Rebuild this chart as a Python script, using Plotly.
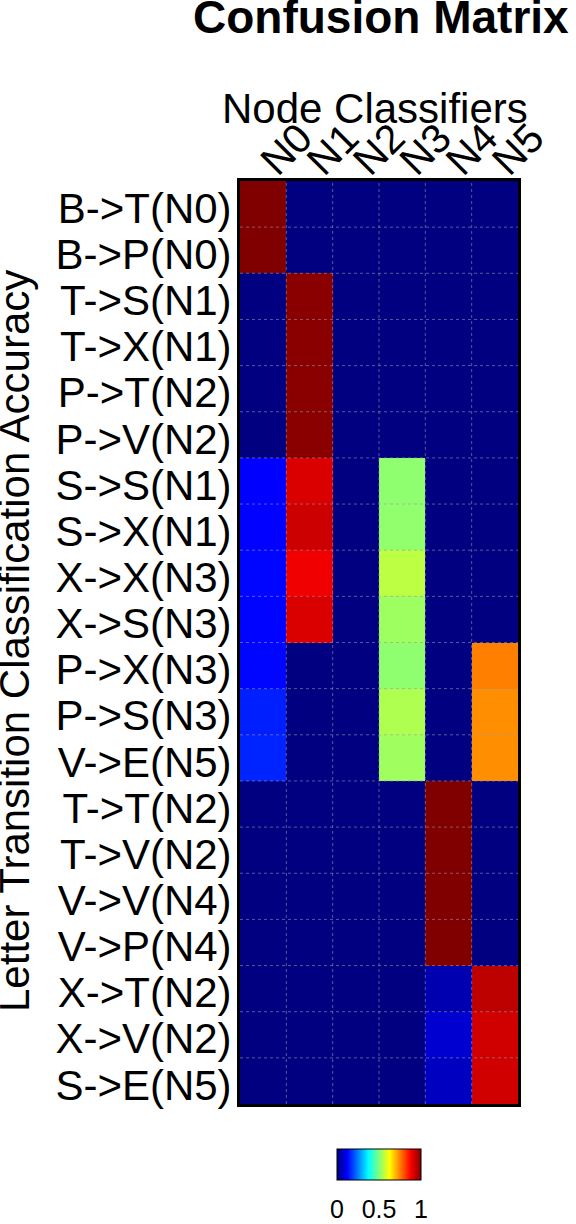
import plotly.graph_objects as go

cols = ["N0", "N1", "N2", "N3", "N4", "N5"]
rows = ["B->T(N0)", "B->P(N0)", "T->S(N1)", "T->X(N1)", "P->T(N2)", "P->V(N2)",
        "S->S(N1)", "S->X(N1)", "X->X(N3)", "X->S(N3)", "P->X(N3)", "P->S(N3)",
        "V->E(N5)", "T->T(N2)", "T->V(N2)", "V->V(N4)", "V->P(N4)", "X->T(N2)",
        "X->V(N2)", "S->E(N5)"]
z = [
    [1.00, 0, 0, 0, 0, 0],
    [1.00, 0, 0, 0, 0, 0],
    [0, 0.99, 0, 0, 0, 0],
    [0, 0.99, 0, 0, 0, 0],
    [0, 0.99, 0, 0, 0, 0],
    [0, 0.99, 0, 0, 0, 0],
    [0.125, 0.91, 0, 0.515, 0, 0],
    [0.126, 0.925, 0, 0.518, 0, 0],
    [0.13, 0.89, 0, 0.56, 0, 0],
    [0.128, 0.91, 0, 0.53, 0, 0],
    [0.13, 0, 0, 0.515, 0, 0.75],
    [0.155, 0, 0, 0.547, 0, 0.735],
    [0.16, 0, 0, 0.532, 0, 0.735],
    [0, 0, 0, 0, 1.00, 0],
    [0, 0, 0, 0, 1.00, 0],
    [0, 0, 0, 0, 1.00, 0],
    [0, 0, 0, 0, 1.00, 0],
    [0, 0, 0, 0, 0.047, 0.94],
    [0, 0, 0, 0, 0.079, 0.92],
    [0, 0, 0, 0, 0.0625, 0.92],
]
cbar_ticks = [0, 0.5, 1]
cbar_text = ["0", "0.5", "1"]

jet = [[0, "#000080"], [0.125, "#0000ff"], [0.375, "#00ffff"],
       [0.625, "#ffff00"], [0.875, "#ff0000"], [1, "#800000"]]
FONT = "Liberation Sans, Arial, sans-serif"

W, H = 576, 1224
PL, PT, PR, PB = 240, 181, 518, 1104  # plot area in page pixels
L, T, R, B = PL, PT, W - PR, H - PB
pw, ph = PR - PL, PB - PT
def px(xp): return (xp - PL) / pw
def py(yp): return (PB - yp) / ph

xi = list(range(len(cols)))
yi = list(range(len(rows)))

fig = go.Figure(go.Heatmap(
    z=z, x=xi, y=yi, colorscale=jet, zmin=0, zmax=1,
    colorbar=dict(orientation="h", lenmode="pixels", len=84, thickness=31,
                  x=px(379), xanchor="center", y=py(1149), yanchor="top",
                  xpad=0, ypad=0, outlinecolor="black", outlinewidth=1,
                  tickvals=cbar_ticks, ticktext=cbar_text, ticks="outside",
                  ticklen=8, tickcolor="rgba(0,0,0,0)",
                  tickfont=dict(family=FONT, size=25, color="black")),
))

shapes = []
for i in range(len(cols) - 1):
    shapes.append(dict(type="line", xref="x", yref="paper", x0=i + 0.5, x1=i + 0.5,
                       y0=0, y1=1, line=dict(color="rgba(150,150,170,0.6)", width=1, dash="dot"),
                       layer="above"))
for j in range(len(rows) - 1):
    shapes.append(dict(type="line", xref="paper", yref="y", x0=0, x1=1, y0=j + 0.5, y1=j + 0.5,
                       line=dict(color="rgba(150,150,170,0.6)", width=1, dash="dot"),
                       layer="above"))

fig.update_layout(
    width=W, height=H, margin=dict(l=L, r=R, t=T, b=B, autoexpand=False),
    paper_bgcolor="white", plot_bgcolor="white",
    font=dict(family=FONT, color="black"),
    shapes=shapes,
    xaxis=dict(side="top", tickangle=-45, tickfont=dict(size=41), ticks="",
               tickmode="array", tickvals=xi, ticktext=cols,
               range=[-0.5, len(cols) - 0.5], automargin=False,
               showline=True, mirror=True, linewidth=3, linecolor="black",
               showgrid=False, zeroline=False, ticklabelstandoff=-22),
    yaxis=dict(autorange=False, range=[len(rows) - 0.5, -0.5], tickfont=dict(size=42), ticks="",
               tickmode="array", tickvals=yi, ticktext=rows, automargin=False,
               showline=True, mirror=True, linewidth=3, linecolor="black",
               showgrid=False, zeroline=False, ticklabelstandoff=-3, ticklabelshift=-4),
    annotations=[
        dict(text="<b>Confusion Matrix</b>", xref="paper", yref="paper",
             x=px(571), y=py(17), xanchor="right", yanchor="middle",
             showarrow=False, font=dict(size=46, family=FONT)),
        dict(text="Node Classifiers", xref="paper", yref="paper",
             x=px(375), y=py(108), xanchor="center", yanchor="middle",
             showarrow=False, font=dict(size=42, family=FONT)),
        dict(text="Letter Transition Classification Accuracy", xref="paper", yref="paper",
             x=px(14), y=py(641), xanchor="center", yanchor="middle", textangle=-90,
             showarrow=False, font=dict(size=42, family=FONT)),
    ],
)
fig.write_html(
    "out.html",
    config={"displayModeBar": False},
    post_script=("document.body.style.margin='0';"
                 "document.documentElement.style.overflow='hidden';"
                 "document.body.style.overflow='hidden';"
                 "document.querySelectorAll('.main-svg').forEach(function(s){s.style.overflow='hidden';});"),
)
